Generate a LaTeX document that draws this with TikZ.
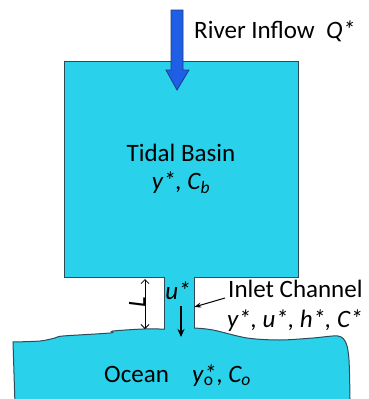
\documentclass[tikz,border=0pt]{standalone}
\usepackage{fontspec}
\setmainfont{Carlito}
\usetikzlibrary{arrows.meta}

\definecolor{water}{HTML}{29D2EA}
\definecolor{edge}{HTML}{2E4A58}
\definecolor{riverblue}{HTML}{1F5FE6}
\definecolor{riverdark}{HTML}{1A3A8A}

\begin{document}
\begin{tikzpicture}[x=1pt, y=-1pt, font=\fontsize{25}{28}\selectfont]
\useasboundingbox (0,0) rectangle (368,399);

% Define ocean
\path[fill=water, draw=edge, line width=1pt] (15,405) -- (13,342)
  -- plot[smooth, tension=0.5] coordinates {(13,342) (40,341) (55,338) (63,336) (110,333) (113,331) (143,329) (167,329) (192,328) (213,330) (247,338) (280,340) (313,338) (338,336) (346,343) (349,360) (350,399)}
  -- (350,405) -- cycle;

% Define boxes
\node[draw=edge, fill=water, rectangle, line width=1pt, minimum width=234pt, minimum height=216pt, align=center] (basin) at (181,169) {Tidal Basin\\ \textit{y*, C\textsubscript{b}}};
\node[fill=water, rectangle, inner sep=0pt, minimum width=29pt, minimum height=56pt] (channel) at (179.5,303) {};
\draw[edge, line width=1pt] ([yshift=-2pt]channel.north west) -- ([yshift=2pt]channel.south west);
\draw[edge, line width=1pt] ([yshift=-2pt]channel.north east) -- ([yshift=3pt]channel.south east);

% Define labels
\node[anchor=base west, inner sep=0pt] (river) at (194,38) {River Inflow\ \ \textit{Q*}};
\node[anchor=base west, inner sep=0pt] (inlet) at (228,297) {Inlet Channel};
\node[anchor=base west, inner sep=0pt] (inletvars) at (227,327) {\textit{y*, u*, h*, C*}};
\node[inner sep=0pt] (ulabel) at (178,291) {\textit{u*}};
\node[rotate=90, inner sep=0pt] (len) at (137,302) {\textit{L}};
\node[anchor=base west, inner sep=0pt] (ocean) at (104,382) {Ocean};
\node[anchor=base west, inner sep=0pt] (oceanvars) at (192,382) {\textit{y}\rlap{\textsubscript{o}}\textit{*}, \textit{C\textsubscript{o}}};

% Draw arrows
\coordinate (source) at (177,10);
\filldraw[fill=riverblue, draw=riverdark, line width=0.8pt] (source) ++(-6,0) -- ++(12,0) -- ++(0,60) -- ++(6,0) -- (177,90) -- (166,70) -- (171,70) -- cycle;
\coordinate (flowtop) at (181,306);
\coordinate (flowend) at (181,337);
\draw[-{Stealth[length=8pt, width=7pt]}, line width=2pt] (flowtop) -- (flowend);
\coordinate (ltop) at (145,279);
\coordinate (lbot) at (145,329);
\draw[{Straight Barb[length=4pt]}-{Straight Barb[length=4pt]}, line width=0.8pt] (ltop) -- (lbot);
\draw[-{Stealth[length=7pt, width=5pt]}, line width=1pt] ([xshift=-3pt, yshift=-1pt]inlet.base west) -- ([yshift=-4pt]channel.east);

\end{tikzpicture}
\end{document}
